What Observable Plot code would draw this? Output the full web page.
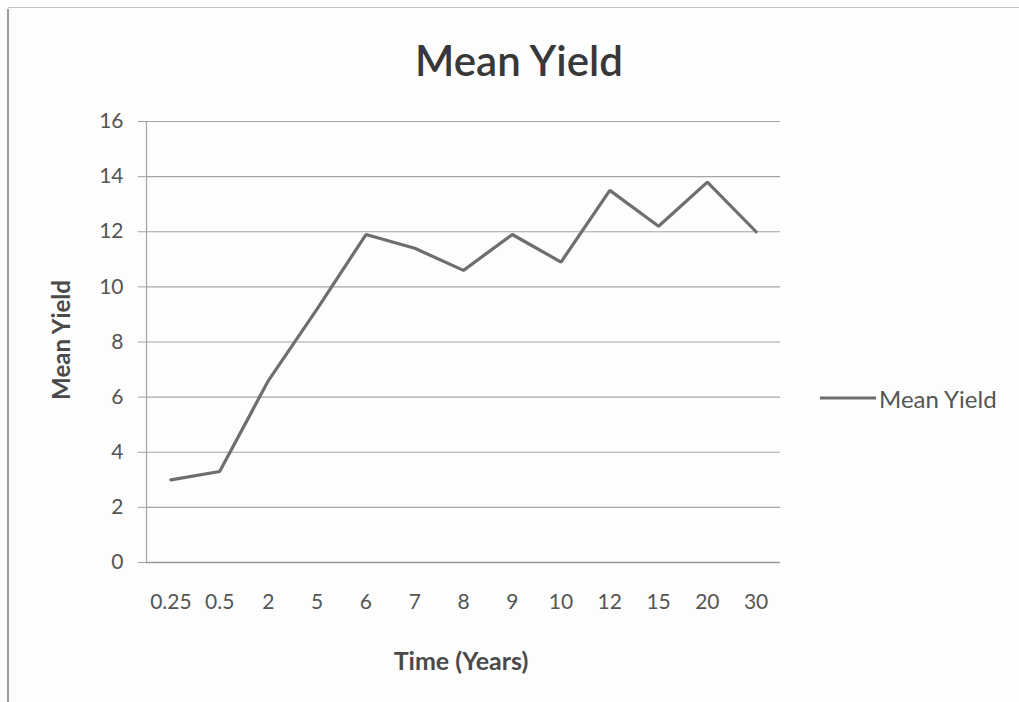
<!DOCTYPE html>
<html>
<head>
<meta charset="utf-8">
<script src="https://cdn.jsdelivr.net/npm/d3@7"></script>
<script src="https://cdn.jsdelivr.net/npm/@observablehq/plot@0.6"></script>
<style>
  html, body { margin: 0; padding: 0; background: #fdfdfd; }
  #wrap { position: relative; width: 1019px; height: 702px; overflow: hidden; font-family: Lato, "Open Sans", sans-serif; color: #4a4a4a; }
  #chart { position: absolute; left: 0; top: 0; }
  .ov { position: absolute; white-space: nowrap; }
  #title { left: 519px; top: 60px; transform: translate(-50%, -50%); font-size: 42px; font-weight: 600; color: #383838; }
  #ylab { left: 60px; top: 340px; transform: translate(-50%, -50%) rotate(-90deg); font-size: 24px; font-weight: 700; color: #4a4a4a; }
  #xlab { left: 461px; top: 660px; transform: translate(-50%, -50%); font-size: 25px; font-weight: 700; color: #4a4a4a; }
  #legend { left: 820px; top: 398px; transform: translateY(-50%); display: flex; align-items: center; font-size: 24px; color: #555; }
  #legend .sw { width: 56px; height: 3px; background: #6e6e6e; margin-right: 3px; }
  #frameL { left: 7px; top: 9px; width: 2px; height: 700px; background: #9a9a9a; }
  #frameT { left: 8px; top: 7px; width: 1011px; height: 1px; background: #c4c4c4; }
</style>
</head>
<body>
<div id="wrap">
  <div id="chart"></div>
  <div id="frameL" class="ov"></div>
  <div id="frameT" class="ov"></div>
  <div id="title" class="ov">Mean Yield</div>
  <div id="ylab" class="ov">Mean Yield</div>
  <div id="xlab" class="ov">Time (Years)</div>
  <div id="legend" class="ov"><div class="sw"></div><span>Mean Yield</span></div>
</div>
<script>
const times = ["0.25", "0.5", "2", "5", "6", "7", "8", "9", "10", "12", "15", "20", "30"];
const meanYield = [3.0, 3.3, 6.6, 9.2, 11.9, 11.4, 10.6, 11.9, 10.9, 13.5, 12.2, 13.8, 12.0];
const yTicks = [0, 2, 4, 6, 8, 10, 12, 14, 16];

const data = times.map((t, i) => ({t, v: meanYield[i]}));

const chart = Plot.plot({
  width: 1019,
  height: 702,
  marginLeft: 146,
  marginRight: 239,
  marginTop: 121,
  marginBottom: 140,
  style: {background: "transparent", fontFamily: "Lato, 'Open Sans', sans-serif", fontSize: "21px", color: "#555"},
  x: {type: "point", domain: times, padding: 0.5, round: false, label: null},
  y: {domain: [0, 16], label: null},
  marks: [
    Plot.gridY(yTicks, {stroke: "#a4a4a4", strokeOpacity: 1, strokeWidth: 1.2}),
    Plot.frame({anchor: "left", stroke: "#a4a4a4", strokeWidth: 1.2}),
    Plot.axisY(yTicks, {tickSize: 8, tickPadding: 15, stroke: "#a4a4a4", fill: "#555", fontSize: 21}),
    Plot.axisX({tickSize: 0, tickPadding: 32, fill: "#555", fontSize: 21}),
    Plot.ruleY([0], {stroke: "#9a9a9a", strokeWidth: 1.5}),
    Plot.line(data, {x: "t", y: "v", stroke: "#6e6e6e", strokeWidth: 3.2, strokeLinejoin: "miter"})
  ]
});
document.getElementById("chart").appendChild(chart);
</script>
</body>
</html>
